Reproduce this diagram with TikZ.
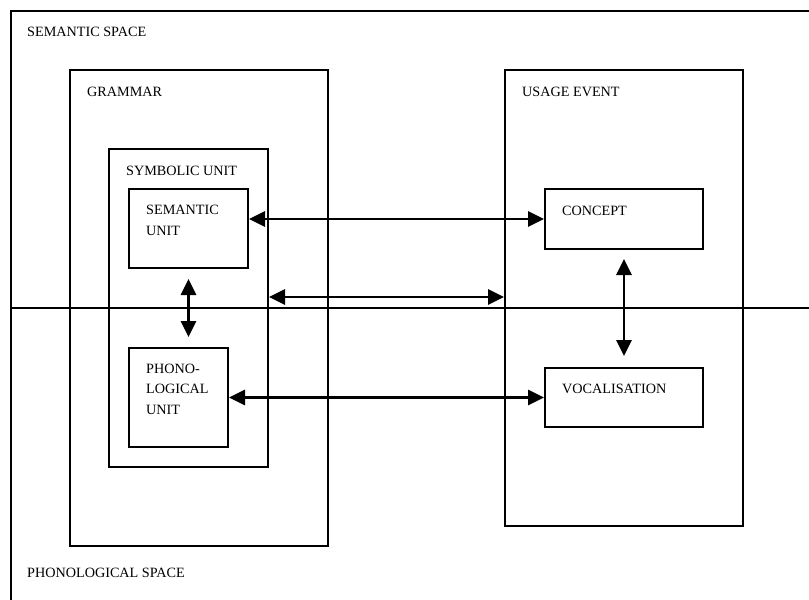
\documentclass[tikz,border=0pt]{standalone}
\usepackage{fontspec}
\setmainfont{Liberation Serif}
\usetikzlibrary{arrows.meta}
\begin{document}
\begin{tikzpicture}[x=1pt,y=-1pt,
  box/.style={draw,line width=2pt,inner sep=0pt,minimum width=#1},
  lbl/.style={anchor=base west,inner sep=0pt,font=\fontsize{14.2}{20.5}\selectfont},
  dbl/.style={line width=2.8pt,{Triangle[length=16pt,width=15pt]}-{Triangle[length=16pt,width=15pt]}},
  frame/.style={line width=2.2pt}]
\useasboundingbox (0,0) rectangle (809,600);
% outer frame and dividing line
\coordinate (fbl) at (11,610);
\coordinate (ftl) at (11,11);
\coordinate (ftr) at (820,11);
\coordinate (mr) at (809,308);
\draw[frame] (fbl) -- (ftl) -- (ftr);
\draw[line width=1.6pt] (mr -| ftl) -- (mr);
% boxes
\node[box=258pt,minimum height=476pt] (gram) at (198.5,308) {};
\node[box=238pt,minimum height=456pt] (use) at (624,298) {};
\node[box=159pt,minimum height=318pt] (sym) at (188.5,308) {};
\node[box=119pt,minimum height=79pt] (sem) at (188.5,228.5) {};
\node[box=99pt,minimum height=99pt] (pho) at (178.5,397.5) {};
\node[box=158pt,minimum height=60pt] (con) at (624,219) {};
\node[box=158pt,minimum height=59pt] (voc) at (624,397.5) {};
% labels
\node[lbl] (tss) at (27,36) {SEMANTIC SPACE};
\node[lbl] (tps) at (27,577) {PHONOLOGICAL SPACE};
\node[lbl] (tgr) at (87,96) {GRAMMAR};
\node[lbl] (tue) at (522,96) {USAGE EVENT};
\node[lbl] (tsy) at (126,175) {SYMBOLIC UNIT};
\node[lbl,align=left] (tse) at (146,235) {SEMANTIC\\UNIT};
\node[lbl,align=left] (tph) at (146,414) {PHONO-\\LOGICAL\\UNIT};
\node[lbl] (tco) at (562,215) {CONCEPT};
\node[lbl] (tvo) at (562,393) {VOCALISATION};
% arrows
\coordinate (a2) at (0,297);
\draw[dbl] (con.west -| sem.east) -- (con.west);
\draw[dbl] (a2 -| sym.east) -- (a2 -| use.west);
\draw[dbl,shorten <=10pt,shorten >=10pt] (sem.south) -- (sem.south |- pho.north);
\draw[dbl,shorten <=9pt,shorten >=11pt] (con.south) -- (voc.north);
\draw[dbl] (pho.east) -- (voc.west);
\end{tikzpicture}
\end{document}
